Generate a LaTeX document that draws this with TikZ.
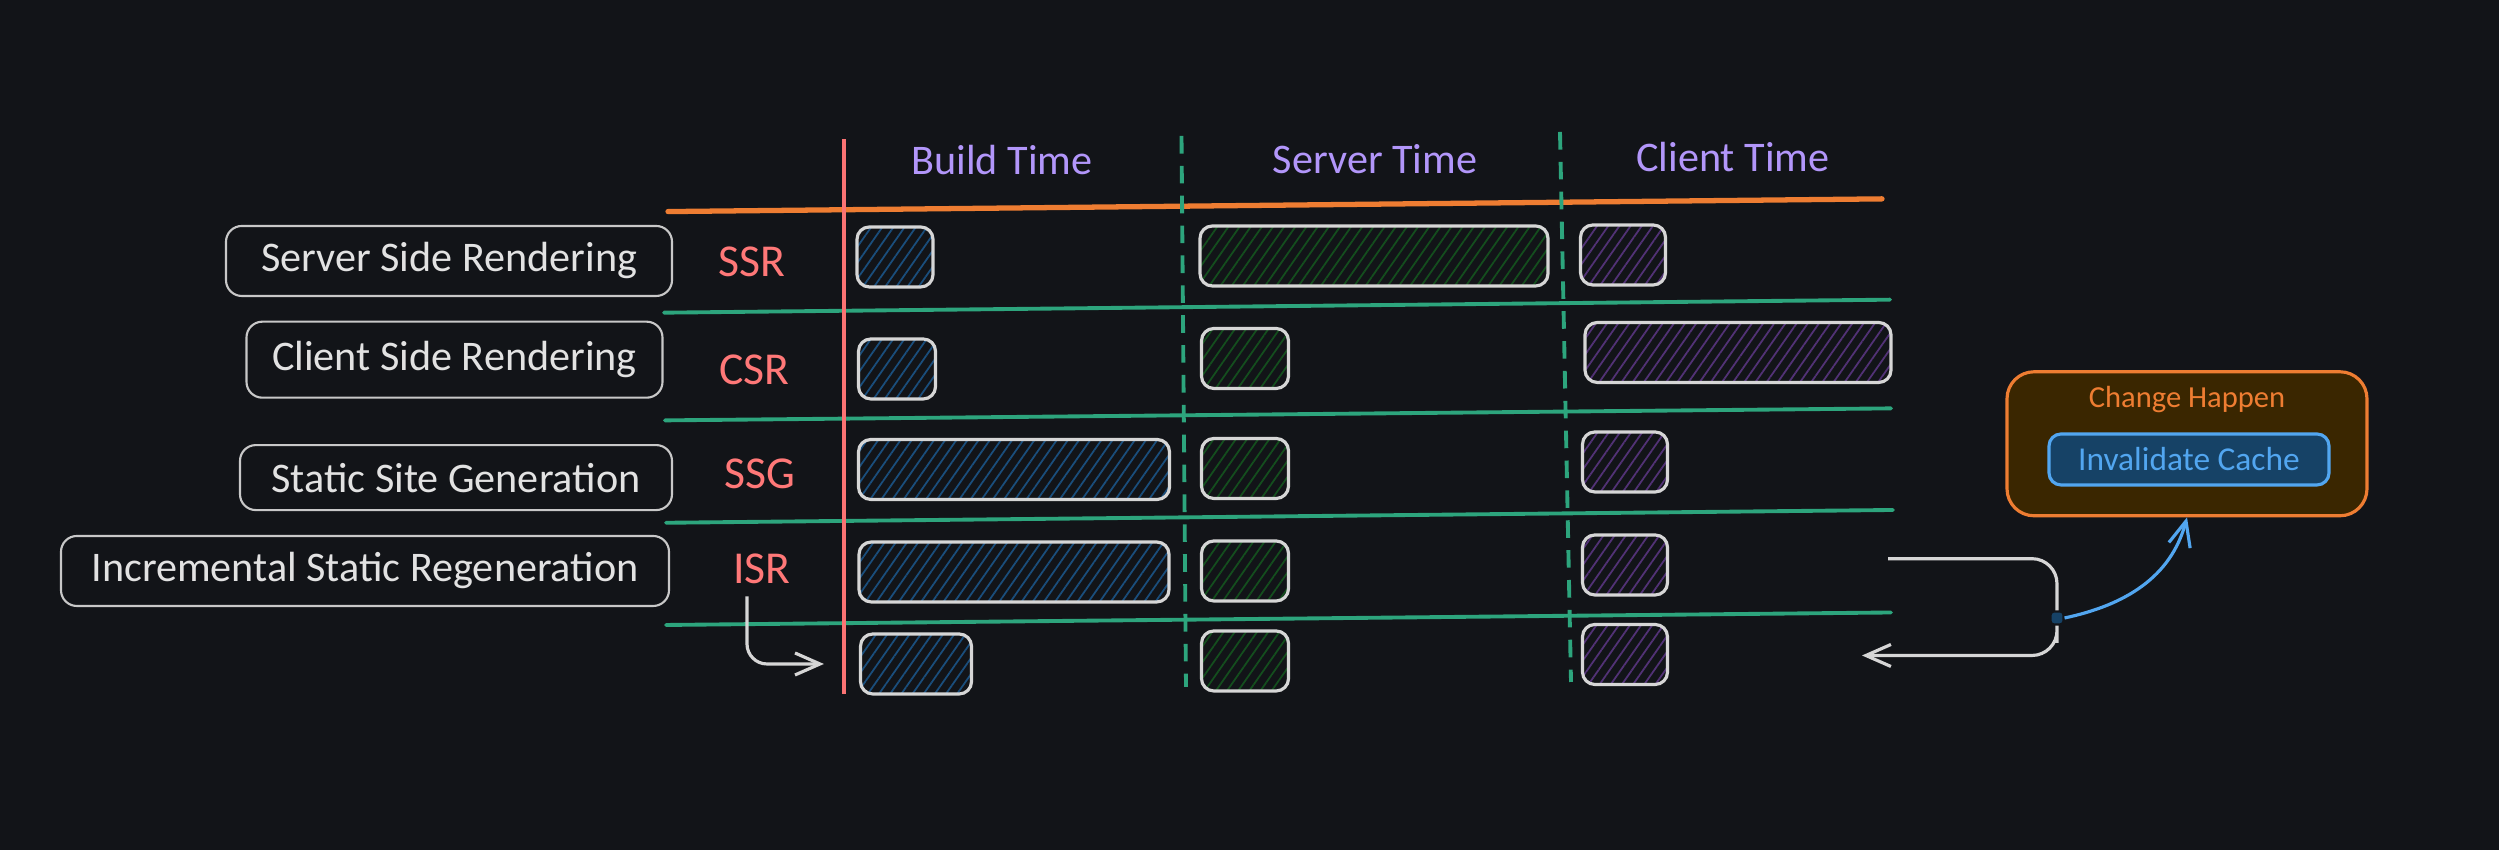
\documentclass[tikz,border=0pt]{standalone}
\usepackage{fontspec}
\setmainfont{Carlito}
\usepackage{xcolor}
\usetikzlibrary{arrows.meta,patterns.meta}
\definecolor{bgdark}{RGB}{18,20,24}
\definecolor{labelgrey}{RGB}{200,200,200}
\definecolor{textgrey}{RGB}{226,226,226}
\definecolor{bargrey}{RGB}{214,214,214}
\definecolor{abbrred}{RGB}{255,120,120}
\definecolor{redline}{RGB}{250,115,115}
\definecolor{headpurple}{RGB}{178,150,250}
\definecolor{orangeline}{RGB}{238,125,50}
\definecolor{greenline}{RGB}{45,165,125}
\definecolor{hatchblue}{RGB}{26,78,124}
\definecolor{hatchgreen}{RGB}{20,78,30}
\definecolor{hatchpurple}{RGB}{82,50,118}
\definecolor{changefill}{RGB}{58,38,0}
\definecolor{cachefill}{RGB}{22,66,102}
\definecolor{cacheblue}{RGB}{82,166,240}

\begin{document}
\begin{tikzpicture}[
    >={Straight Barb[length=2.5mm,width=2.2mm]},
    labelbox/.style={draw=labelgrey, line width=0.6pt, rounded corners=4.5pt, text=textgrey, font=\fontsize{12}{14}\selectfont, minimum height=0.7cm},
    abbr/.style={text=abbrred, font=\fontsize{13}{15}\selectfont},
    header/.style={text=headpurple, font=\fontsize{12}{14}\selectfont},
    bar/.style={draw=bargrey, line width=0.9pt, rounded corners=3.5pt, minimum height=0.6cm, inner sep=0pt},
    buildbar/.style={bar, pattern={Lines[angle=55,distance=2.6pt,line width=0.5pt]}, pattern color=hatchblue},
    serverbar/.style={bar, pattern={Lines[angle=55,distance=2.6pt,line width=0.5pt]}, pattern color=hatchgreen},
    clientbar/.style={bar, pattern={Lines[angle=55,distance=2.6pt,line width=0.5pt]}, pattern color=hatchpurple},
    rowline/.style={greenline, line width=1.1pt, line cap=round},
    colline/.style={greenline, line width=1.1pt, dash pattern=on 5pt off 3.5pt}
]
    \fill[bgdark] (0,0) rectangle (24.99,8.5);
    \useasboundingbox (0,0) rectangle (24.99,8.5);

    % column headers and grid
    \node[header] (build) at (10.02,6.90) {Build Time};
    \node[header] (server) at (13.75,6.91) {Server Time};
    \node[header] (client) at (17.33,6.93) {Client Time};

    \draw[orangeline, line width=1.5pt, line cap=round] (6.68,6.384) -- (18.82,6.511);
    \draw[rowline] (6.64,5.373) -- (18.90,5.503);
    \draw[rowline] (6.65,4.296) -- (18.91,4.416);
    \draw[rowline] (6.66,3.272) -- (18.93,3.400);
    \draw[rowline] (6.66,2.250) -- (18.91,2.375);
    \draw[redline, line width=1pt] (8.44,7.105) -- (8.44,1.56);
    \draw[colline] (11.815,7.14) -- (11.86,1.63);
    \draw[colline] (15.60,7.18) -- (15.71,1.68);

    % row names
    \node[labelbox, minimum width=4.46cm] (ssrname) at (4.49,5.89) {Server Side Rendering};
    \node[labelbox, minimum width=4.16cm, minimum height=0.76cm] (csrname) at (4.545,4.903) {Client Side Rendering};
    \node[labelbox, minimum width=4.32cm, minimum height=0.65cm] (ssgname) at (4.56,3.724) {Static Site Generation};
    \node[labelbox, minimum width=6.08cm] (isrname) at (3.65,2.79) {Incremental Static Regeneration};

    \node[abbr] (ssr) at (7.52,5.886) {SSR};
    \node[abbr] (csr) at (7.546,4.80) {CSR};
    \node[abbr] (ssg) at (7.595,3.763) {SSG};
    \node[abbr] (isr) at (7.62,2.81) {ISR};

    % build time
    \node[buildbar, minimum width=0.76cm] (ssrb) at (8.95,5.93) {};
    \node[buildbar, minimum width=0.77cm] (csrb) at (8.97,4.81) {};
    \node[buildbar, minimum width=3.11cm] (ssgb) at (10.14,3.805) {};
    \node[buildbar, minimum width=3.10cm] (isrb) at (10.14,2.78) {};
    \node[buildbar, minimum width=1.11cm] (newb) at (9.16,1.86) {};

    % server time
    \node[serverbar, minimum width=3.48cm] (ssrs) at (13.74,5.94) {};
    \node[serverbar, minimum width=0.87cm] (csrs) at (12.45,4.915) {};
    \node[serverbar, minimum width=0.87cm] (ssgs) at (12.45,3.815) {};
    \node[serverbar, minimum width=0.87cm] (isrs) at (12.45,2.79) {};
    \node[serverbar, minimum width=0.87cm] (news) at (12.45,1.89) {};

    % client time
    \node[clientbar, minimum width=0.85cm] (ssrc) at (16.23,5.95) {};
    \node[clientbar, minimum width=3.06cm] (csrc) at (17.38,4.975) {};
    \node[clientbar, minimum width=0.85cm] (ssgc) at (16.25,3.88) {};
    \node[clientbar, minimum width=0.85cm] (isrc) at (16.25,2.85) {};
    \node[clientbar, minimum width=0.85cm] (newc) at (16.25,1.955) {};

    \draw[->, bargrey, line width=0.9pt, rounded corners=0.2cm] ([xshift=-0.15cm]isr.south) |- ([xshift=-0.35cm]newb.west);

    % revalidation
    \node[draw=orangeline, fill=changefill, line width=0.9pt, rounded corners=0.27cm, minimum width=3.6cm, minimum height=1.44cm] (change) at (21.87,4.062) {};
    \node[text=orangeline, font=\fontsize{8.7}{10}\selectfont] (changetitle) at (21.87,4.50) {Change Happen};
    \node[draw=cacheblue, fill=cachefill, text=cacheblue, line width=0.9pt, rounded corners=0.12cm, minimum width=2.8cm, minimum height=0.51cm, font=\fontsize{9.5}{11}\selectfont] (cache) at (21.89,3.905) {Invalidate Cache};

    \coordinate (loopin) at (18.88,2.913);
    \coordinate (loopmid) at (20.57,2.32);
    \coordinate (loopout) at (18.62,1.945);
    \draw[->, bargrey, line width=0.9pt, rounded corners=0.25cm] (loopin) -| (loopmid) |- (loopout);
    \node[draw=bgdark, fill=cachefill, line width=0.6pt, minimum size=0.13cm, inner sep=0pt, rounded corners=1pt] (sq) at (loopmid) {};
    \draw[->, cacheblue, line width=0.9pt] (sq.east) to[out=12, in=-105] (change.south);
\end{tikzpicture}
\end{document}
